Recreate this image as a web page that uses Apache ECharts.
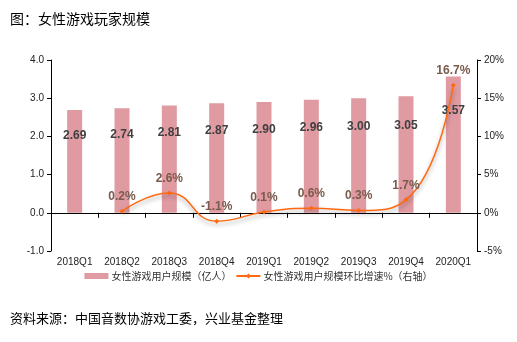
<!DOCTYPE html>
<html><head><meta charset="utf-8">
<script src="https://cdn.jsdelivr.net/npm/echarts@6/dist/echarts.min.js"></script>
<style>html,body{margin:0;padding:0;background:#fff}#c{width:517px;height:342px}</style>
</head><body><div id="c"></div>
<script>
const categories = ['2018Q1','2018Q2','2018Q3','2018Q4','2019Q1','2019Q2','2019Q3','2019Q4','2020Q1'];
const users = [2.69, 2.74, 2.81, 2.87, 2.90, 2.96, 3.00, 3.05, 3.57];
const growth = [null, 0.2, 2.6, -1.1, 0.1, 0.6, 0.3, 1.7, 16.7];
const leftTicks = [-1, 4, 1];
const rightTicks = [-5, 20, 5];
const barName = '女性游戏用户规模（亿人）';
const lineName = '女性游戏用户规模环比增速%（右轴）';
const titleText = '图：女性游戏玩家规模';
const sourceText = '资料来源：中国音数协游戏工委，兴业基金整理';

const font = 'Arial, "Liberation Sans", "Noto Sans CJK SC", sans-serif';
const chart = echarts.init(document.getElementById('c'), null, {renderer:'canvas'});
chart.setOption({
  animation: false,
  textStyle: {fontFamily: font},
  graphic: [
    {type:'text', left: 10, top: 12, style:{text: titleText, fontSize: 14, fill:'#000', fontFamily:'"Noto Sans CJK SC", sans-serif'}},
    {type:'text', left: 10, top: 312, style:{text: sourceText, fontSize: 13, fill:'#000', fontFamily:'"Noto Sans CJK SC", sans-serif'}}
  ],
  legend: {
    top: 266, left: 'center', itemGap: 4, itemWidth: 24, itemHeight: 6,
    textStyle: {fontSize: 10, color:'#333', padding:[0,0,0,-2], fontFamily:'"Noto Sans CJK SC", sans-serif'},
    data: [{name: barName, icon: 'rect'}, {name: lineName}]
  },
  grid: {left: 51, right: 40, top: 60, bottom: 91, containLabel: false},
  xAxis: {
    type: 'category', data: categories,
    axisLine: {onZero: true, lineStyle:{color:'#000', width: 1}},
    axisTick: {show: true, alignWithLabel: false, length: 5, lineStyle:{color:'#000'}},
    axisLabel: {color:'#222', fontSize: 10, margin: 6},
  },
  yAxis: [
    {type:'value', min: leftTicks[0], max: leftTicks[1], interval: leftTicks[2],
     axisLine:{show:true, lineStyle:{color:'#000'}}, axisTick:{show:true, length:4, lineStyle:{color:'#000'}},
     splitLine:{show:false},
     axisLabel:{color:'#222', fontSize: 10, margin: 7, formatter: v => v.toFixed(1)}},
    {type:'value', min: rightTicks[0], max: rightTicks[1], interval: rightTicks[2], position:'right',
     axisLine:{show:true, lineStyle:{color:'#000'}}, axisTick:{show:true, length:4, lineStyle:{color:'#000'}},
     splitLine:{show:false},
     axisLabel:{color:'#222', fontSize: 10, margin: 7, formatter: v => v + '%'}}
  ],
  series: [
    {name: barName, type:'bar', data: users, barWidth: 15, yAxisIndex: 0,
     itemStyle:{color:'#DF9AA2'},
     label:{show:true, position:['50%','25%'], align:'center', verticalAlign:'middle',
       color:'#404040', fontSize: 12, fontWeight:'bold', formatter: p => p.value.toFixed(2)}},
    {name: lineName, type:'line', data: growth, yAxisIndex: 1, smooth: 0.5, connectNulls: false,
     symbol:'diamond', symbolSize: 5,
     lineStyle:{color:'#FF6A10', width: 1.5, shadowColor:'rgba(0,0,0,0.35)', shadowBlur: 4, shadowOffsetY: 3},
     itemStyle:{color:'#FF6A10'},
     label:{show:true, position:'top', distance: 6, color:'#7A5A4C', fontSize: 12, fontWeight:'bold',
       formatter: p => p.value.toFixed(1) + '%'}}
  ]
});
</script></body></html>
